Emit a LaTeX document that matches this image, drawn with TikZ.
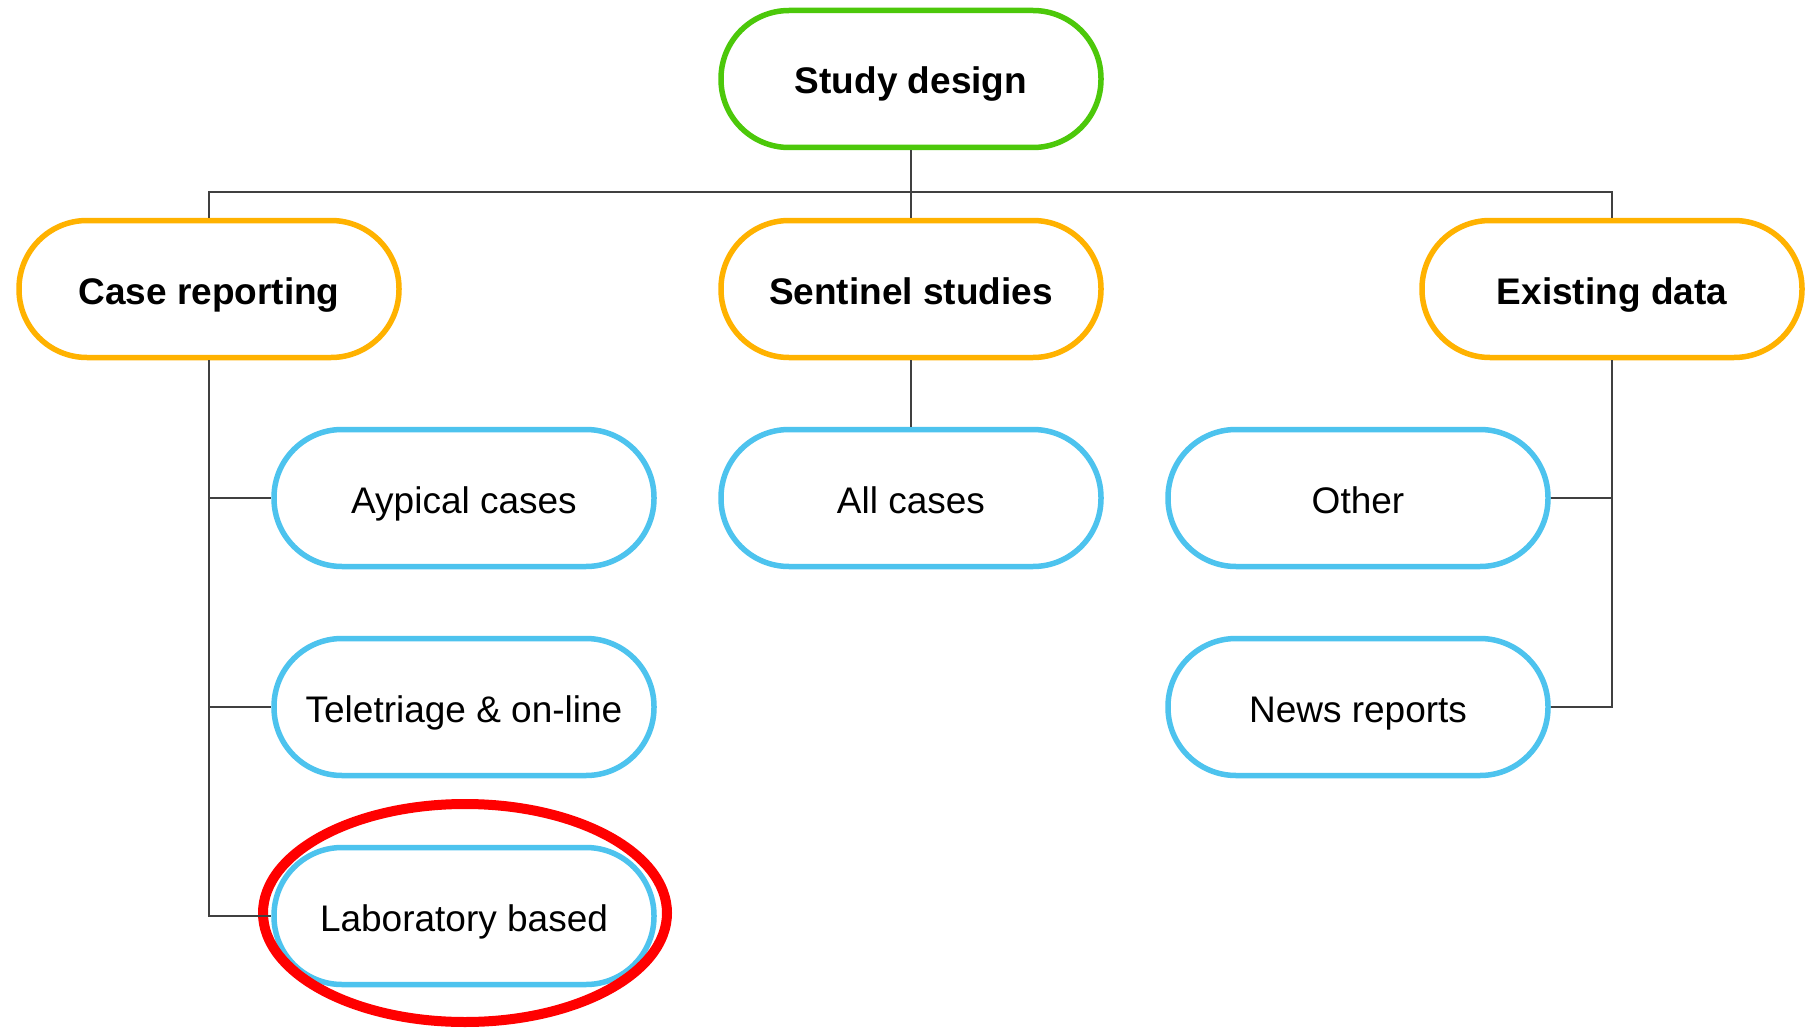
\documentclass[tikz,border=0pt]{standalone}
\usepackage{fontspec}
\setmainfont{Liberation Sans}
\usetikzlibrary{shapes.geometric}
\definecolor{cgreen}{RGB}{76,200,10}
\definecolor{corange}{RGB}{255,178,0}
\definecolor{cblue}{RGB}{77,195,238}
\definecolor{cred}{RGB}{255,0,0}
\definecolor{cline}{RGB}{64,64,64}
\tikzset{
  pill/.style={draw, line width=5.5pt, rounded corners=68pt, minimum width=380pt, minimum height=137pt, fill=white, inner sep=0pt, text height=33pt, text depth=3pt, font=\fontsize{37}{40}\selectfont},
  rootbox/.style={pill, draw=cgreen, font=\fontsize{37}{40}\selectfont\bfseries},
  catbox/.style={pill, draw=corange, font=\fontsize{37}{40}\selectfont\bfseries},
  leafbox/.style={pill, draw=cblue},
  conn/.style={draw=cline, line width=1.6pt},
  mark ring/.style={draw=cred, line width=10pt, ellipse, minimum width=404pt, minimum height=218pt, inner sep=0pt}
}
\begin{document}
\begin{tikzpicture}[x=1pt, y=-1pt]
\useasboundingbox (0,0) rectangle (1805,1030);
\fill[white] (0,0) rectangle (1805,1030);
\coordinate (bus) at (911,192);
\node[rootbox] (root) at (911,79) {Study design};
\node[catbox] (case) at (209,289) {Case reporting};
\node[catbox] (sent) at (911,289) {Sentinel studies};
\node[catbox] (exist) at (1612,289) {Existing data};
\node[leafbox] (ayp) at (464,498) {Aypical cases};
\node[leafbox] (tele) at (464,707) {Teletriage \& on-line};
\node[leafbox] (lab) at (464,916) {Laboratory based};
\node[leafbox] (all) at (911,498) {All cases};
\node[leafbox] (other) at (1358,498) {Other};
\node[leafbox] (news) at (1358,707) {News reports};
\node[mark ring] (ring) at (465,913) {};
\draw[conn] (root.south) -- (sent.north);
\draw[conn] (case.north) |- (bus) -| (exist.north);
\draw[conn] (sent.south) -- (all.north);
\draw[conn] (case.south) |- (lab.west);
\draw[conn] (case.south |- ayp.west) -- (ayp.west);
\draw[conn] (case.south |- tele.west) -- (tele.west);
\draw[conn] (exist.south) |- (news.east);
\draw[conn] (exist.south |- other.east) -- (other.east);
\end{tikzpicture}
\end{document}
